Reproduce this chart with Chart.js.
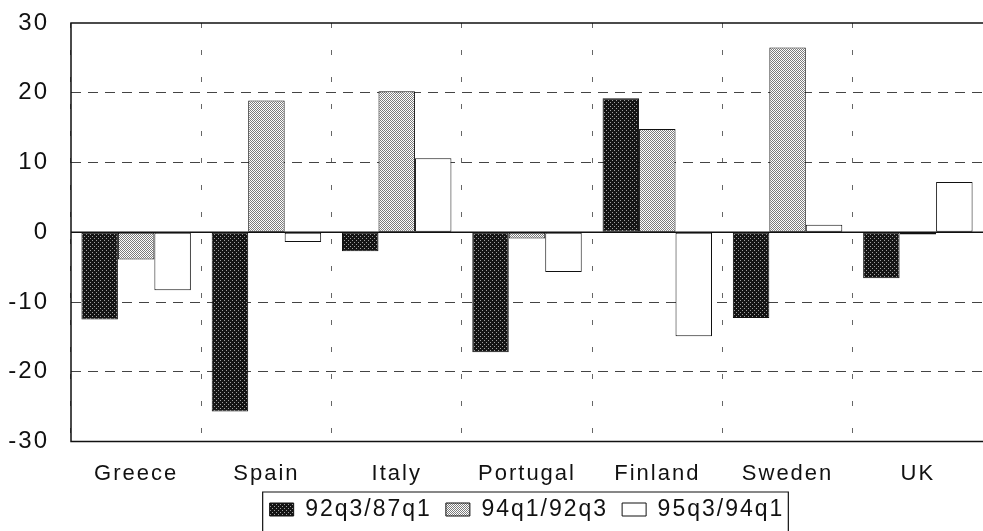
<!DOCTYPE html>
<html>
<head>
<meta charset="utf-8">
<script src="https://cdn.jsdelivr.net/npm/chart.js@4/dist/chart.umd.min.js"></script>
<style>
  body { margin: 0; background: #fff; }
  canvas { display: block; }
</style>
</head>
<body>
<canvas id="chart" width="983" height="531"></canvas>
<script>
const countries = ['Greece', 'Spain', 'Italy', 'Portugal', 'Finland', 'Sweden', 'UK'];
const seriesNames = ['92q3/87q1', '94q1/92q3', '95q3/94q1'];
const q92vs87 = [-12.5, -25.7, -2.7, -17.2, 19.2, -12.3, -6.6];
const q94vs92 = [-3.9, 18.9, 20.2, -0.9, 14.8, 26.5, -0.3];
const q95vs94 = [-8.3, -1.4, 10.6, -5.7, -14.9, 1.1, 7.2];
const yTicks = [-30, -20, -10, 0, 10, 20, 30];

const FONT = '"Liberation Sans", Arial, sans-serif';
const LEGEND_SHIFT = 22;

// stipple fills like the scanned original
function dots(bg, fg, size, pts) {
    const c = document.createElement('canvas');
    c.width = c.height = size;
    const x = c.getContext('2d');
    x.fillStyle = bg;
    x.fillRect(0, 0, size, size);
    x.fillStyle = fg;
    pts.forEach(p => x.fillRect(p[0], p[1], 1, 1));
    return x.createPattern(c, 'repeat');
}
const darkFill = dots('#141414', '#a0a0a0', 4, [[0, 0], [2, 2]]);
const lightFill = dots('#ffffff', '#7c7c7c', 2, [[0, 0], [1, 1]]);

const spacing = {
    id: 'spacing',
    beforeUpdate(chart) { chart.ctx.letterSpacing = '2px'; },
    beforeDraw(chart) { chart.ctx.letterSpacing = '2px'; }
};

// legend sits tight under the axis labels, centred under the plot
const legendTight = {
    id: 'legendTight',
    beforeUpdate(chart) {
        const lg = chart.legend;
        if (!lg || lg._tight) return;
        const fit = lg.fit;
        lg.fit = function() {
            fit.call(this);
            this.height -= LEGEND_SHIFT;
        };
        lg._tight = true;
    },
    afterLayout(chart) {
        const lg = chart.legend;
        lg.top -= LEGEND_SHIFT;
        lg.left = chart.chartArea.left;
        lg.right = chart.chartArea.right;
        lg.width = lg.right - lg.left;
    }
};

const frame = {
    id: 'frame',
    afterDatasetsDraw(chart) {
        const ctx = chart.ctx;
        const a = chart.chartArea;
        const y0 = chart.scales.y.getPixelForValue(0);
        ctx.save();
        ctx.strokeStyle = '#111';
        ctx.lineWidth = 1.5;
        ctx.beginPath();
        ctx.moveTo(a.left, y0);
        ctx.lineTo(a.right, y0);
        ctx.moveTo(a.right + 2, a.top);
        ctx.lineTo(a.left, a.top);
        ctx.lineTo(a.left, a.bottom);
        ctx.lineTo(a.right + 2, a.bottom);
        ctx.stroke();
        ctx.restore();
    },
    afterDraw(chart) {
        const boxes = chart.legend.legendHitBoxes;
        if (!boxes || !boxes.length) return;
        const left = Math.min(...boxes.map(b => b.left)) - 7;
        const right = Math.max(...boxes.map(b => b.left + b.width)) + 4;
        const top = Math.min(...boxes.map(b => b.top)) - 6;
        const ctx = chart.ctx;
        ctx.save();
        ctx.strokeStyle = '#111';
        ctx.lineWidth = 1.2;
        ctx.beginPath();
        ctx.moveTo(left, chart.height + 2);
        ctx.lineTo(left, top);
        ctx.lineTo(right, top);
        ctx.lineTo(right, chart.height + 2);
        ctx.stroke();
        ctx.restore();
    }
};

const fills = [darkFill, lightFill, '#ffffff'];
const values = [q92vs87, q94vs92, q95vs94];

new Chart(document.getElementById('chart'), {
    type: 'bar',
    data: {
        labels: countries,
        datasets: seriesNames.map((name, i) => ({
            label: name,
            data: values[i],
            backgroundColor: fills[i],
            borderColor: '#111',
            borderWidth: 1,
            borderSkipped: false,
            categoryPercentage: 0.84,
            barPercentage: 1.0
        }))
    },
    options: {
        responsive: false,
        animation: false,
        devicePixelRatio: 1,
        layout: { padding: { top: 23, right: 0, left: 5, bottom: 0 } },
        plugins: {
            tooltip: { enabled: false },
            legend: {
                position: 'bottom',
                labels: {
                    color: '#111',
                    font: { family: FONT, size: 23 },
                    boxWidth: 24,
                    boxHeight: 13,
                    padding: 14,
                    generateLabels(chart) {
                        return chart.data.datasets.map((ds, i) => ({
                            text: ds.label,
                            fillStyle: fills[i],
                            strokeStyle: '#111',
                            lineWidth: 1,
                            datasetIndex: i,
                            fontColor: '#111'
                        }));
                    }
                }
            }
        },
        scales: {
            x: {
                afterFit(scale) {
                    scale.paddingLeft = 0;
                    scale.paddingRight = 0;
                },
                grid: {
                    offset: true,
                    color: '#666',
                    lineWidth: 1,
                    drawTicks: false
                },
                border: { display: false, dash: [5, 22] },
                ticks: {
                    color: '#111',
                    font: { family: FONT, size: 22 },
                    padding: 19
                }
            },
            y: {
                min: -30,
                max: 30,
                afterBuildTicks(scale) {
                    scale.ticks = yTicks.map(v => ({ value: v }));
                },
                afterFit(scale) {
                    scale.paddingTop = 0;
                    scale.paddingBottom = 0;
                    scale.width = 66;
                },
                grid: {
                    color: ctx => (ctx.tick && Math.abs(ctx.tick.value) % 30 === 0) ? 'rgba(0,0,0,0)' : '#444',
                    lineWidth: 1,
                    drawTicks: false
                },
                border: { display: false, dash: [10, 7] },
                ticks: {
                    color: '#111',
                    font: { family: FONT, size: 24 },
                    padding: 22
                }
            }
        }
    },
    plugins: [spacing, legendTight, frame]
});
</script>
</body>
</html>
